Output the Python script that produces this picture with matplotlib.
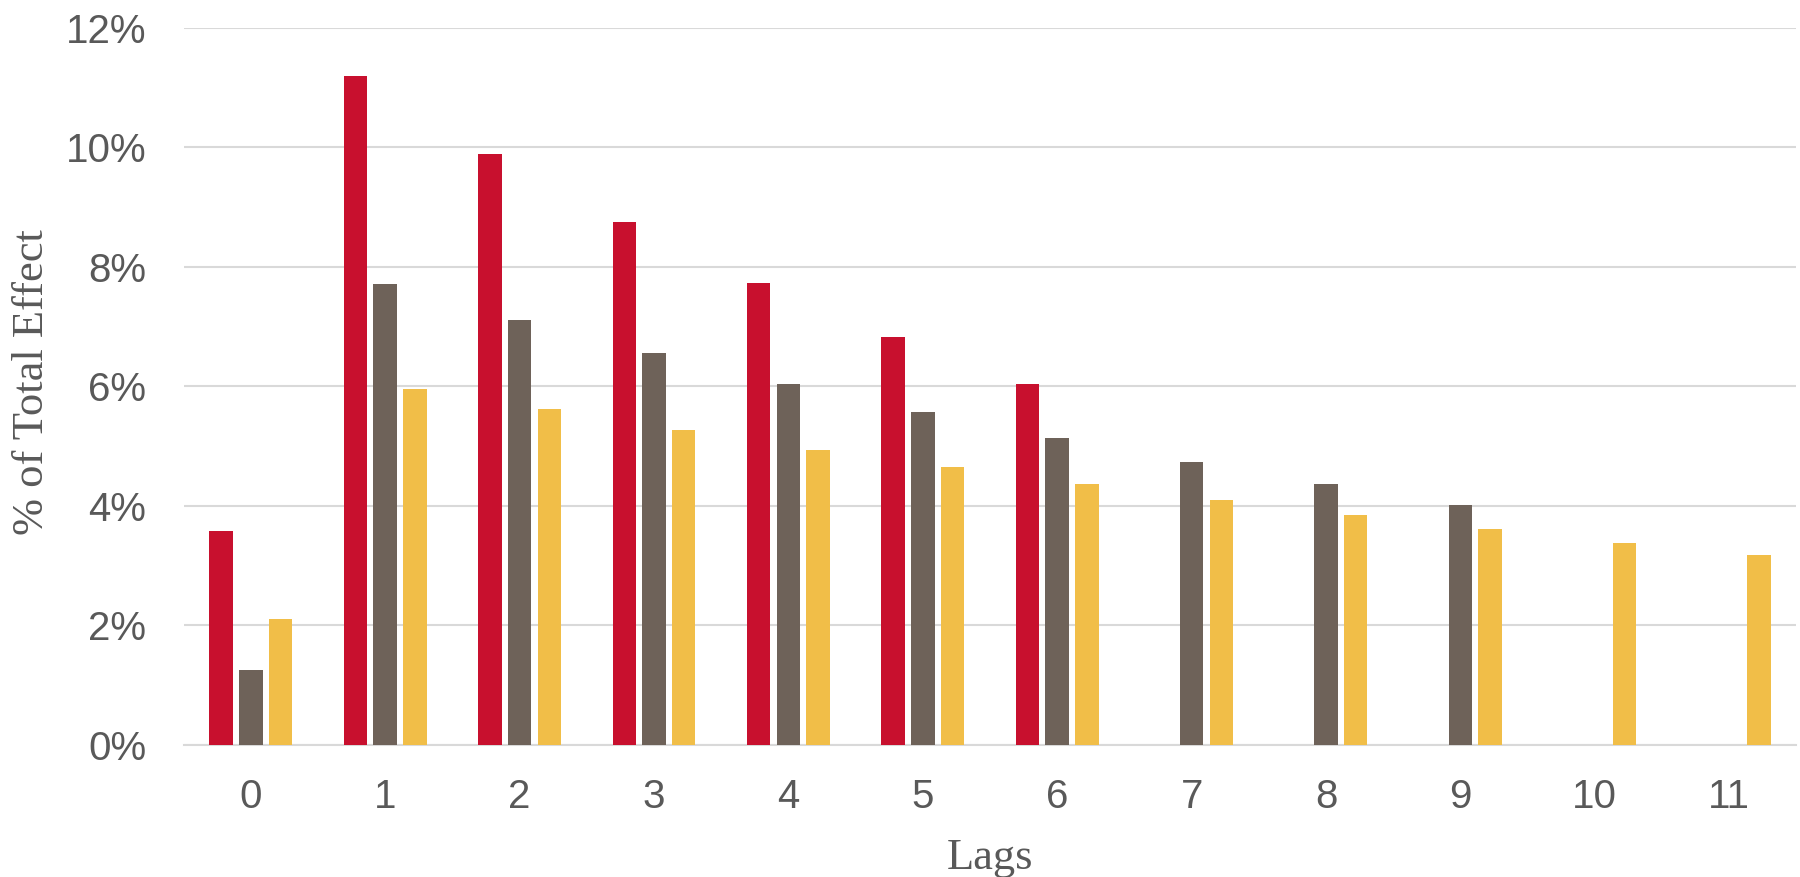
import matplotlib
matplotlib.use('Agg')

import matplotlib.pyplot as plt
import numpy as np
from matplotlib.ticker import FuncFormatter

# lag index and share of total effect (%) for each of the three series
lags = list(range(12))
red_vals = [3.57, 11.19, 9.88, 8.74, 7.73, 6.83, 6.04, None, None, None, None, None]
gray_vals = [1.25, 7.71, 7.10, 6.55, 6.03, 5.57, 5.13, 4.73, 4.36, 4.01, None, None]
gold_vals = [2.11, 5.96, 5.61, 5.27, 4.94, 4.65, 4.36, 4.09, 3.84, 3.61, 3.38, 3.18]

y_ticks = [0, 2, 4, 6, 8, 10, 12]

colors = ['#C8102E', '#6E6259', '#F1BE48']
series = [red_vals, gray_vals, gold_vals]

text_color = '#595959'
grid_color = '#D9D9D9'

fig = plt.figure(figsize=(18, 8.77), dpi=100)
ax = fig.add_axes([0.102, 0.1509, 0.896, 0.8175])

x = np.arange(len(lags))
width = 0.175
offsets = [-0.221, 0.0, 0.221]

for vals, color, off in zip(series, colors, offsets):
    xs = [xi + off for xi, v in zip(x, vals) if v is not None]
    hs = [v for v in vals if v is not None]
    ax.bar(xs, hs, width=width, color=color, zorder=3)

ax.set_xlim(-0.5, len(lags) - 0.5)
ax.set_ylim(0, 12)
ax.set_yticks(y_ticks)
ax.yaxis.set_major_formatter(FuncFormatter(lambda v, _: f"{v:.0f}%"))
ax.set_xticks(x)
ax.set_xticklabels([str(l) for l in lags])

ax.grid(axis='y', color=grid_color, linewidth=1.5, zorder=0)
for side in ['top', 'right', 'left']:
    ax.spines[side].set_visible(False)
ax.spines['bottom'].set_color(grid_color)
ax.spines['bottom'].set_linewidth(1.5)
ax.tick_params(axis='both', length=0, labelsize=29, colors=text_color,
               labelfontfamily='Liberation Sans')
ax.tick_params(axis='x', pad=24)
ax.tick_params(axis='y', pad=27)

ax.set_xlabel('Lags', fontsize=32, family='Liberation Serif', color=text_color, va='center')
ax.set_ylabel('% of Total Effect', fontsize=32, family='Liberation Serif', color=text_color, va='center')
ax.xaxis.set_label_coords(0.5, -0.158)
ax.yaxis.set_label_coords(-0.094, 0.506)

fig.savefig('out.png', dpi=100)
plt.close(fig)
